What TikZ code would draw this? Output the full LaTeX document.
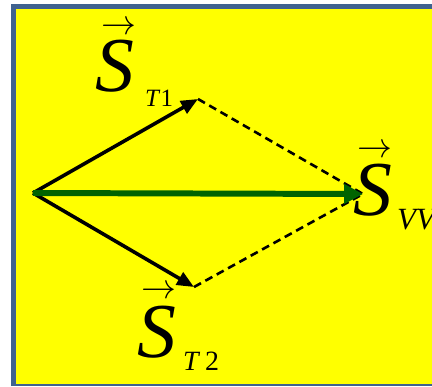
\RequirePackage{fix-cm}
\documentclass[tikz,border=0pt]{standalone}
\usepackage{fontspec}
\setmainfont{Liberation Serif}
\usetikzlibrary{arrows.meta,positioning}
\definecolor{framebl}{RGB}{63,98,143}
\definecolor{vvgreen}{RGB}{0,100,0}
\definecolor{bgyellow}{RGB}{255,255,0}

\begin{document}
\begin{tikzpicture}[x=1bp,y=-1bp,
 vec/.style={line width=3.6pt,-{Triangle[length=17pt,width=14pt]}},
 sumvec/.style={draw=vvgreen,line width=6pt,-{Triangle[length=19pt,width=19pt]}},
 para/.style={dash pattern=on 8pt off 5pt,line width=2.6pt},
 big/.style={font=\fontsize{78}{78}\selectfont\itshape,inner sep=0pt,anchor=base west},
 sub/.style={font=\fontsize{25}{25}\selectfont,inner sep=0pt,anchor=base west},
 hat/.style={font=\fontsize{35}{35}\selectfont,inner sep=0pt,anchor=base west}]
\useasboundingbox (0,0) rectangle (432,387);
% frame
\begin{scope}
\clip (0,0) rectangle (432,387);
\fill[framebl] (11,4) rectangle (450,400);
\fill[bgyellow] (16,9) rectangle (450,384);
\fill[white] (0,386) rectangle (450,400);
\end{scope}
% points
\coordinate (o) at (33,193);
\coordinate (t1) at (198,99);
\coordinate (t2) at (194,287);
\coordinate (vv) at (363,194);
% parallelogram sides
\draw[para] (t1) -- (vv);
\draw[para] (t2) -- (vv);
% vectors
\draw[vec] (o) -- (t1);
\draw[vec] (o) -- (t2);
\draw[sumvec] (o) -- (vv);
% labels
\node[big] (st1) at (95,91) {S};
\node[sub] (st1sub) at (145,106) {\textit{T}1};
\node[hat] (st1hat) at (101,34) {$\rightarrow$};
\node[big] (st2) at (137,357) {S};
\node[sub,font=\fontsize{28}{28}\selectfont] (st2sub) at (183,370) {\textit{T}\,2};
\node[hat] (st2hat) at (141,298) {$\rightarrow$};
\node[big] (svv) at (353,215) {S};
\node[sub,font=\fontsize{31}{31}\selectfont] (svvsub) at (397,229) {\textit{VV}};
\node[hat] (svvhat) at (357,157) {$\rightarrow$};
\end{tikzpicture}
\end{document}
